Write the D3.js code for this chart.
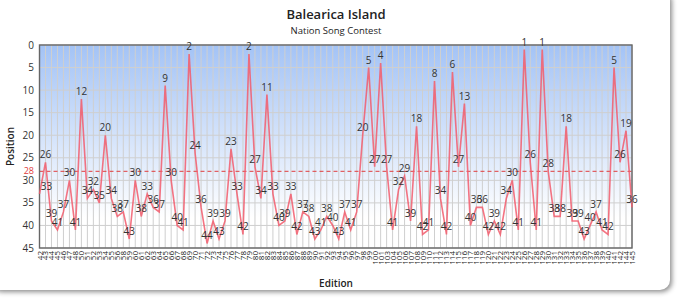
<!DOCTYPE html>
<html>
<head>
<meta charset="utf-8">
<script src="https://cdn.jsdelivr.net/npm/d3@7"></script>
<style>
  body { margin: 0; background: #fff; font-family: "Open Sans", sans-serif; }
  #card {
    position: absolute; left: -10px; top: -10px; width: 680px; height: 300px;
    background: #fff; border-radius: 10px; box-shadow: 2px 2px 5px rgba(0,0,0,0.45);
  }
  #chart { position: absolute; left: 0; top: 0; }
</style>
</head>
<body>
<div id="card"></div>
<div id="chart"></div>
<script>
// editions in which the island took part
const editions = [42,43,44,45,46,47,48,50,51,52,53,54,55,56,58,59,60,61,62,63,
  64,65,66,67,68,69,70,71,72,73,74,75,76,77,78,79,80,81,82,83,
  84,85,86,87,88,89,90,91,92,93,94,95,96,97,98,99,100,101,103,104,
  105,106,107,108,109,110,111,112,113,114,115,116,117,118,119,120,121,122,123,124,
  125,126,127,128,129,130,131,132,133,134,135,136,137,138,139,140,141,142,144,145];

const positions = [33,26,39,41,37,30,41,12,34,32,35,20,34,38,37,43,30,38,33,36,
  37,9,30,40,41,2,24,36,44,39,43,39,23,33,42,2,27,34,11,33,
  40,39,33,42,37,38,43,41,38,40,43,37,41,37,20,5,27,4,27,41,
  32,29,39,18,42,41,8,34,42,6,27,13,40,36,36,42,39,42,34,30,
  41,1,26,41,1,28,38,38,18,39,39,43,40,37,41,42,5,26,19,36];

const yTicks = [0,5,10,15,20,25,30,35,40,45];
const qualifyLine = 28;

const width = 681, height = 303;
const margin = { left: 39.5, right: 49, top: 45, bottom: 55 };

const svg = d3.select("#chart").append("svg")
  .attr("width", width)
  .attr("height", height);

const defs = svg.append("defs");
const grad = defs.append("linearGradient")
  .attr("id", "bg").attr("x1", 0).attr("y1", 0).attr("x2", 0).attr("y2", 1);
grad.append("stop").attr("offset", "0%").attr("stop-color", "#a3c3f6");
grad.append("stop").attr("offset", "85%").attr("stop-color", "#ffffff");

const x = d3.scalePoint()
  .domain(editions)
  .range([margin.left, width - margin.right]);

const y = d3.scaleLinear()
  .domain([0, 45])
  .range([margin.top, height - margin.bottom]);

const plotW = width - margin.right - margin.left;
const plotH = height - margin.bottom - margin.top;

svg.append("rect")
  .attr("x", margin.left).attr("y", margin.top)
  .attr("width", plotW).attr("height", plotH)
  .attr("fill", "url(#bg)");

// grid
svg.append("g")
  .selectAll("line")
  .data(editions)
  .join("line")
  .attr("x1", d => x(d)).attr("x2", d => x(d))
  .attr("y1", margin.top).attr("y2", margin.top + plotH)
  .attr("stroke", "#cfcfcf").attr("stroke-width", 1);

svg.append("g")
  .selectAll("line")
  .data(yTicks)
  .join("line")
  .attr("x1", margin.left).attr("x2", margin.left + plotW)
  .attr("y1", d => y(d)).attr("y2", d => y(d))
  .attr("stroke", "#cfcfcf").attr("stroke-width", 1);

// dashed reference line
svg.append("line")
  .attr("x1", margin.left).attr("x2", margin.left + plotW)
  .attr("y1", y(qualifyLine)).attr("y2", y(qualifyLine))
  .attr("stroke", "#e03c3c").attr("stroke-width", 1)
  .attr("stroke-dasharray", "4,3");

svg.append("rect")
  .attr("x", margin.left).attr("y", margin.top)
  .attr("width", plotW).attr("height", plotH)
  .attr("fill", "none").attr("stroke", "#666").attr("stroke-width", 1.4);

// y axis labels
svg.append("g")
  .selectAll("text")
  .data(yTicks)
  .join("text")
  .attr("x", 34).attr("y", d => y(d))
  .attr("dy", "0.35em")
  .attr("text-anchor", "end")
  .attr("font-size", 10)
  .attr("fill", "#333")
  .text(d => d);

svg.append("text")
  .attr("x", 34).attr("y", y(qualifyLine))
  .attr("dy", "0.35em")
  .attr("text-anchor", "end")
  .attr("font-size", 9)
  .attr("fill", "#e03c3c")
  .text(qualifyLine);

// x axis labels
svg.append("g")
  .selectAll("text")
  .data(editions)
  .join("text")
  .attr("transform", d => `translate(${x(d) + 3},${margin.top + plotH + 3}) rotate(-90)`)
  .attr("text-anchor", "end")
  .attr("font-size", 8)
  .attr("fill", "#222")
  .text(d => d);

// line
const line = d3.line()
  .x((d, i) => x(editions[i]))
  .y(d => y(d));

svg.append("path")
  .datum(positions)
  .attr("d", line)
  .attr("fill", "none")
  .attr("stroke", "#f25c6c")
  .attr("stroke-opacity", 0.85)
  .attr("stroke-width", 1.6);

// point labels
svg.append("g")
  .selectAll("text")
  .data(positions)
  .join("text")
  .attr("x", (d, i) => x(editions[i]) + (i === 0 ? 7 : 0))
  .attr("y", d => y(d) - 4)
  .attr("text-anchor", "middle")
  .attr("font-size", 10)
  .attr("fill", "#333")
  .text(d => d);

// titles
svg.append("text")
  .attr("x", 336).attr("y", 19)
  .attr("text-anchor", "middle")
  .attr("font-size", 13).attr("font-weight", 600)
  .attr("fill", "#222")
  .text("Balearica Island");

svg.append("text")
  .attr("x", 336).attr("y", 34)
  .attr("text-anchor", "middle")
  .attr("font-size", 9.5)
  .attr("fill", "#222")
  .text("Nation Song Contest");

svg.append("text")
  .attr("transform", `translate(14,${margin.top + plotH / 2}) rotate(-90)`)
  .attr("text-anchor", "middle")
  .attr("font-size", 10).attr("font-weight", 600)
  .attr("fill", "#222")
  .text("Position");

svg.append("text")
  .attr("x", 336).attr("y", 287)
  .attr("text-anchor", "middle")
  .attr("font-size", 10).attr("font-weight", 600)
  .attr("fill", "#222")
  .text("Edition");
</script>
</body>
</html>
